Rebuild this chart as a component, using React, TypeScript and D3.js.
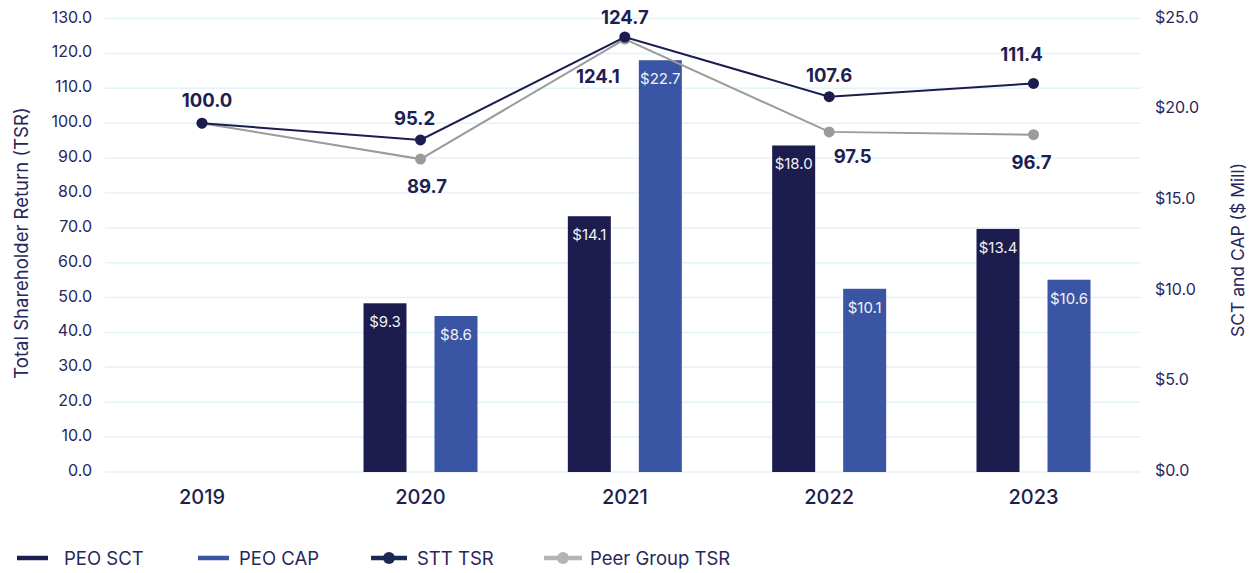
import React from "react";
import * as d3 from "d3";

const years = [2019, 2020, 2021, 2022, 2023];
const barYears = [2020, 2021, 2022, 2023];
const peoSct = [9.3, 14.1, 18.0, 13.4];
const peoCap = [8.6, 22.7, 10.1, 10.6];
const sttTsr = [100.0, 95.2, 124.7, 107.6, 111.4];
const peerTsr = [100.0, 89.7, 124.1, 97.5, 96.7];
const leftTicks = d3.range(0, 131, 10);
const rightTicks = [0, 5, 10, 15, 20, 25];
const legendItems = ["PEO SCT", "PEO CAP", "STT TSR", "Peer Group TSR"];

// label placement offsets (dx, dy) relative to each point
const sttLabelOffset: [number, number][] = [[5, -16.5], [-6, -15], [0, -13], [0, -15], [-12, -22]];
const peerLabelOffset: ([number, number] | null)[] = [null, [6.5, 34], [-27, 44], [23.5, 31], [-2, 34.6]];

const NAVY = "#1c1c4f";
const BLUE = "#3b55a5";
const GRAY = "#9b9b9b";
const TEXT = "#27275c";
const GRID = "#e4f2fa";
const FONT = "Inter, 'Noto Sans', sans-serif";

export default function App() {
  const W = 1255, H = 573;
  const x = d3.scaleLinear().domain([2019, 2020, 2023]).range([202, 420.5, 1033.5]);
  const yL = d3.scaleLinear().domain([0, 130]).range([472, 18.5]);
  const yR = d3.scaleLinear().domain([0, 25]).range([472, 18.5]);
  const barW = 43, barOff = 35.5;
  const gridX0 = 105, gridX1 = 1141;

  const line = d3.line<number>().x((_, i) => x(years[i])).y((d) => yL(d));

  const legendX = [17, 198, 371, 544];
  const legendTextX = [64, 239, 417, 590];
  const legendW = [31, 31, 36, 38];
  const legendColors = [NAVY, BLUE, "#1b2a55", "#b4b4b4"];

  return (
    <svg width={W} height={H} style={{ position: "absolute", left: 0, top: 0, fontFamily: FONT }}>
      <rect width={W} height={H} fill="#ffffff" />
      {leftTicks.map((t) => (
        <line key={"g" + t} x1={gridX0} x2={gridX1} y1={yL(t)} y2={yL(t)} stroke={GRID} strokeWidth={1.5} />
      ))}
      {leftTicks.map((t) => (
        <text key={"l" + t} x={92} y={yL(t) + 4} textAnchor="end" fontSize={16} fill={TEXT}>
          {t.toFixed(1)}
        </text>
      ))}
      {rightTicks.map((t) => (
        <text key={"r" + t} x={1155} y={yR(t) + 4} textAnchor="start" fontSize={16} fill={TEXT}>
          {"$" + t.toFixed(1)}
        </text>
      ))}
      <text transform="translate(27.5,243) rotate(-90)" textAnchor="middle" fontSize={18.5} fill={TEXT}>
        Total Shareholder Return (TSR)
      </text>
      <text transform="translate(1244,250) rotate(-90)" textAnchor="middle" fontSize={17.5} fill={TEXT}>
        SCT and CAP ($ Mill)
      </text>

      {barYears.map((yr, i) => (
        <g key={"b" + yr}>
          <rect x={x(yr) - barOff - barW / 2} y={yR(peoSct[i])} width={barW} height={yR(0) - yR(peoSct[i])} fill={NAVY} />
          <text x={x(yr) - barOff} y={yR(peoSct[i]) + 24} textAnchor="middle" fontSize={15} fill="#f2f2f2">
            {"$" + peoSct[i].toFixed(1)}
          </text>
          <rect x={x(yr) + barOff - barW / 2} y={yR(peoCap[i])} width={barW} height={yR(0) - yR(peoCap[i])} fill={BLUE} />
          <text x={x(yr) + barOff} y={yR(peoCap[i]) + 24} textAnchor="middle" fontSize={15} fill="#f2f2f2">
            {"$" + peoCap[i].toFixed(1)}
          </text>
        </g>
      ))}

      {years.map((yr) => (
        <text key={"y" + yr} x={x(yr)} y={504} textAnchor="middle" fontSize={20} fontWeight={500} fill="#1f1f4f">
          {yr}
        </text>
      ))}

      <path d={line(peerTsr) || ""} fill="none" stroke={GRAY} strokeWidth={2} />
      {peerTsr.map((v, i) => (
        <circle key={"pc" + i} cx={x(years[i])} cy={yL(v)} r={5.5} fill={GRAY} />
      ))}
      <path d={line(sttTsr) || ""} fill="none" stroke={NAVY} strokeWidth={2} />
      {sttTsr.map((v, i) => (
        <circle key={"sc" + i} cx={x(years[i])} cy={yL(v)} r={5.5} fill={NAVY} />
      ))}
      {sttTsr.map((v, i) => (
        <text key={"sl" + i} x={x(years[i]) + sttLabelOffset[i][0]} y={yL(v) + sttLabelOffset[i][1]} textAnchor="middle" fontSize={18.5} fontWeight={700} fill="#1e1e50">
          {v.toFixed(1)}
        </text>
      ))}
      {peerTsr.map((v, i) => {
        const o = peerLabelOffset[i];
        if (!o) return null;
        return (
          <text key={"pl" + i} x={x(years[i]) + o[0]} y={yL(v) + o[1]} textAnchor="middle" fontSize={18.5} fontWeight={700} fill="#1e1e50">
            {v.toFixed(1)}
          </text>
        );
      })}

      {legendItems.map((name, i) => (
        <g key={"lg" + i}>
          <line x1={legendX[i]} x2={legendX[i] + legendW[i]} y1={558} y2={558} stroke={legendColors[i]} strokeWidth={4.5} />
          {i >= 2 && <circle cx={legendX[i] + legendW[i] / 2} cy={558} r={6} fill={legendColors[i]} />}
          <text x={legendTextX[i]} y={564.5} fontSize={18.5} fill={TEXT}>
            {name}
          </text>
        </g>
      ))}
    </svg>
  );
}
